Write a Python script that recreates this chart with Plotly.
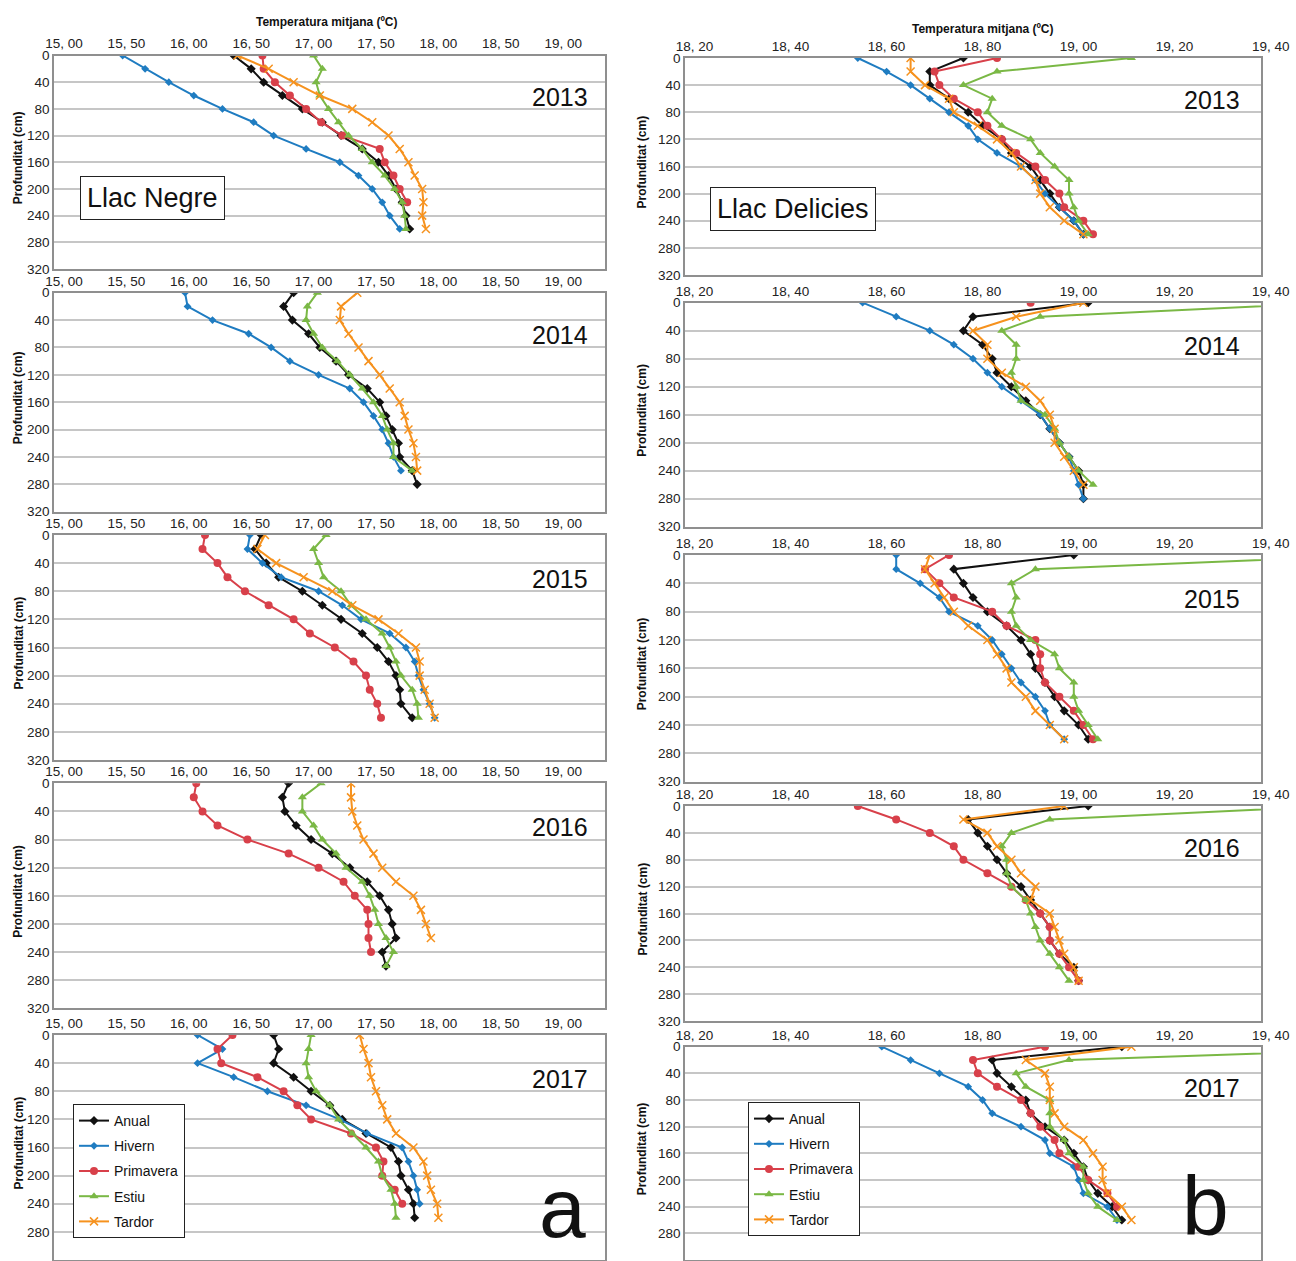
import plotly.graph_objects as go

W, H = 1296, 1261
DEPTH = [0, 20, 40, 60, 80, 100, 120, 140, 160, 180, 200, 220, 240, 260, 280]
YEARS = ["2013", "2014", "2015", "2016", "2017"]
SEASONS = ["Anual", "Hivern", "Primavera", "Estiu", "Tardor"]

# ---------------- Llac Negre (a) ----------------
negre_2013_anual = [16.36, 16.50, 16.60, 16.75, 16.91, 17.07, 17.22, 17.39, 17.52, 17.60, 17.66, 17.71, 17.74, 17.77]
negre_2013_hivern = [15.47, 15.65, 15.84, 16.04, 16.27, 16.52, 16.68, 16.94, 17.21, 17.36, 17.47, 17.55, 17.61, 17.69]
negre_2013_primavera = [16.59, 16.60, 16.69, 16.81, 16.94, 17.06, 17.23, 17.53, 17.57, 17.64, 17.69, 17.75]
negre_2013_estiu = [17.00, 17.07, 17.02, 17.05, 17.12, 17.20, 17.28, 17.39, 17.47, 17.57, 17.65, 17.71, 17.73, 17.74]
negre_2013_tardor = [16.39, 16.64, 16.84, 17.05, 17.31, 17.47, 17.60, 17.69, 17.76, 17.81, 17.87, 17.88, 17.87, 17.90]

negre_2014_anual = [16.84, 16.76, 16.83, 16.96, 17.05, 17.18, 17.28, 17.43, 17.53, 17.58, 17.63, 17.68, 17.69, 17.79, 17.83]
negre_2014_hivern = [15.97, 15.99, 16.19, 16.48, 16.66, 16.81, 17.04, 17.29, 17.40, 17.48, 17.55, 17.60, 17.64, 17.70]
negre_2014_primavera = []
negre_2014_estiu = [17.03, 16.95, 16.94, 17.00, 17.07, 17.19, 17.29, 17.39, 17.48, 17.55, 17.59, 17.64, 17.64, 17.79]
negre_2014_tardor = [17.35, 17.22, 17.21, 17.28, 17.36, 17.44, 17.53, 17.61, 17.69, 17.73, 17.76, 17.80, 17.82, 17.83]

negre_2015_anual = [16.58, 16.53, 16.62, 16.72, 16.91, 17.07, 17.22, 17.39, 17.51, 17.60, 17.66, 17.69, 17.70, 17.79]
negre_2015_hivern = [16.49, 16.47, 16.59, 16.74, 17.04, 17.23, 17.38, 17.61, 17.74, 17.81, 17.84, 17.88, 17.93, 17.97]
negre_2015_primavera = [16.13, 16.11, 16.23, 16.31, 16.45, 16.64, 16.84, 16.97, 17.17, 17.32, 17.42, 17.45, 17.51, 17.54]
negre_2015_estiu = [17.10, 17.00, 17.04, 17.08, 17.22, 17.30, 17.42, 17.55, 17.61, 17.66, 17.70, 17.79, 17.83, 17.84]
negre_2015_tardor = [16.61, 16.55, 16.70, 16.92, 17.15, 17.31, 17.52, 17.68, 17.82, 17.85, 17.85, 17.89, 17.93, 17.97]

negre_2016_anual = [16.80, 16.75, 16.77, 16.86, 16.98, 17.15, 17.29, 17.43, 17.53, 17.60, 17.63, 17.66, 17.55, 17.58]
negre_2016_hivern = []
negre_2016_primavera = [16.06, 16.04, 16.11, 16.23, 16.47, 16.80, 17.04, 17.24, 17.33, 17.43, 17.44, 17.44, 17.46]
negre_2016_estiu = [17.06, 16.91, 16.91, 17.00, 17.07, 17.18, 17.26, 17.39, 17.45, 17.49, 17.52, 17.58, 17.64, 17.58]
negre_2016_tardor = [17.30, 17.30, 17.31, 17.35, 17.40, 17.48, 17.55, 17.66, 17.80, 17.86, 17.90, 17.94]

negre_2017_anual = [16.68, 16.72, 16.68, 16.84, 16.98, 17.13, 17.23, 17.42, 17.62, 17.68, 17.70, 17.76, 17.80, 17.81]
negre_2017_hivern = [16.07, 16.27, 16.07, 16.36, 16.63, 16.94, 17.21, 17.43, 17.71, 17.76, 17.80, 17.83, 17.85]
negre_2017_primavera = [16.35, 16.23, 16.26, 16.55, 16.76, 16.87, 16.98, 17.30, 17.50, 17.56, 17.55, 17.65, 17.71]
negre_2017_estiu = [16.98, 16.96, 16.94, 16.96, 17.02, 17.13, 17.20, 17.31, 17.42, 17.52, 17.55, 17.62, 17.65, 17.66]
negre_2017_tardor = [17.37, 17.40, 17.44, 17.46, 17.50, 17.55, 17.59, 17.66, 17.80, 17.88, 17.91, 17.94, 17.99, 18.00]

# ---------------- Llac Delicies (b) ----------------
delicies_2013_anual = [18.76, 18.69, 18.69, 18.73, 18.77, 18.80, 18.84, 18.86, 18.90, 18.92, 18.94, 18.96, 18.99, 19.01]
delicies_2013_hivern = [18.54, 18.60, 18.65, 18.69, 18.73, 18.77, 18.79, 18.83, 18.88, 18.91, 18.93, 18.96, 18.99, 19.01]
delicies_2013_primavera = [18.83, 18.70, 18.71, 18.74, 18.79, 18.81, 18.84, 18.87, 18.91, 18.93, 18.96, 18.97, 19.01, 19.03]
delicies_2013_estiu = [19.11, 18.83, 18.76, 18.82, 18.81, 18.84, 18.90, 18.92, 18.95, 18.98, 18.98, 18.99, 19.00, 19.02]
delicies_2013_tardor = [18.65, 18.65, 18.68, 18.73, 18.74, 18.79, 18.83, 18.86, 18.88, 18.91, 18.92, 18.94, 18.97, 19.01]

delicies_2014_anual = [19.02, 18.78, 18.76, 18.80, 18.82, 18.83, 18.86, 18.89, 18.92, 18.94, 18.96, 18.98, 19.00, 19.01, 19.01]
delicies_2014_hivern = [18.55, 18.62, 18.69, 18.74, 18.78, 18.81, 18.84, 18.88, 18.92, 18.94, 18.96, 18.98, 18.99, 19.00, 19.01]
delicies_2014_primavera = [18.90]
delicies_2014_estiu = [19.54, 18.92, 18.84, 18.87, 18.87, 18.86, 18.87, 18.88, 18.93, 18.95, 18.96, 18.98, 19.00, 19.03]
delicies_2014_tardor = [19.01, 18.87, 18.78, 18.81, 18.81, 18.84, 18.89, 18.92, 18.94, 18.95, 18.95, 18.97, 18.99, 19.01]

delicies_2015_anual = [18.99, 18.74, 18.76, 18.78, 18.81, 18.85, 18.88, 18.90, 18.91, 18.93, 18.95, 18.97, 19.00, 19.02]
delicies_2015_hivern = [18.62, 18.62, 18.67, 18.71, 18.73, 18.79, 18.82, 18.84, 18.86, 18.88, 18.91, 18.93, 18.94, 18.97]
delicies_2015_primavera = [18.73, 18.68, 18.71, 18.74, 18.82, 18.85, 18.91, 18.92, 18.92, 18.93, 18.96, 18.99, 19.01, 19.03]
delicies_2015_estiu = [19.64, 18.91, 18.86, 18.87, 18.86, 18.87, 18.90, 18.95, 18.96, 18.99, 18.99, 19.00, 19.02, 19.04]
delicies_2015_tardor = [18.69, 18.68, 18.70, 18.72, 18.74, 18.77, 18.81, 18.83, 18.85, 18.86, 18.89, 18.91, 18.94, 18.97]

delicies_2016_anual = [19.02, 18.77, 18.79, 18.81, 18.83, 18.85, 18.88, 18.90, 18.92, 18.94, 18.94, 18.96, 18.99, 19.00]
delicies_2016_hivern = []
delicies_2016_primavera = [18.54, 18.62, 18.69, 18.74, 18.76, 18.81, 18.86, 18.89, 18.92, 18.94, 18.94, 18.96, 18.98, 19.00]
delicies_2016_estiu = [19.53, 18.94, 18.86, 18.84, 18.85, 18.85, 18.86, 18.89, 18.90, 18.91, 18.92, 18.94, 18.96, 18.98]
delicies_2016_tardor = [18.97, 18.76, 18.81, 18.83, 18.86, 18.88, 18.91, 18.90, 18.94, 18.95, 18.96, 18.97, 18.99, 19.00]

delicies_2017_anual = [19.09, 18.82, 18.83, 18.86, 18.89, 18.90, 18.93, 18.97, 18.99, 19.01, 19.02, 19.04, 19.07, 19.09]
delicies_2017_hivern = [18.59, 18.65, 18.71, 18.77, 18.80, 18.82, 18.88, 18.93, 18.94, 18.99, 19.00, 19.01, 19.06, 19.08]
delicies_2017_primavera = [18.93, 18.78, 18.79, 18.83, 18.88, 18.90, 18.92, 18.95, 18.96, 19.00, 19.02, 19.06, 19.08]
delicies_2017_estiu = [19.80, 18.98, 18.87, 18.89, 18.94, 18.94, 18.94, 18.97, 18.98, 19.01, 19.01, 19.02, 19.04, 19.08]
delicies_2017_tardor = [19.11, 18.89, 18.93, 18.94, 18.94, 18.95, 18.97, 19.01, 19.03, 19.05, 19.05, 19.06, 19.09, 19.11]

# Tick labels
negre_tickvals = [15.0, 15.5, 16.0, 16.5, 17.0, 17.5, 18.0, 18.5, 19.0]
negre_ticktext = ["15, 00", "15, 50", "16, 00", "16, 50", "17, 00", "17, 50", "18, 00", "18, 50", "19, 00"]
delicies_tickvals = [18.2, 18.4, 18.6, 18.8, 19.0, 19.2]
delicies_ticktext = ["18, 20", "18, 40", "18, 60", "18, 80", "19, 00", "19, 20"]
delicies_last_tick = 19.4
delicies_last_text = "19, 40"
depth_ticks = [0, 40, 80, 120, 160, 200, 240, 280, 320]

g = globals()
NEGRE = {y: [g[f"negre_{y}_{s.lower()}"] for s in SEASONS] for y in YEARS}
DELICIES = {y: [g[f"delicies_{y}_{s.lower()}"] for s in SEASONS] for y in YEARS}

COLORS = {"Anual": "#111111", "Hivern": "#1f7cc1", "Primavera": "#d8404a",
          "Estiu": "#7ab845", "Tardor": "#f6921e"}
SYMBOLS = {"Anual": "diamond", "Hivern": "diamond", "Primavera": "circle",
           "Estiu": "triangle-up", "Tardor": "x-thin"}
SIZES = {"Anual": 7, "Hivern": 6, "Primavera": 8, "Estiu": 8, "Tardor": 8}

FONT = "Liberation Sans, Arial, Helvetica, sans-serif"
TICK_SIZE = 13.5

# panel geometry in pixels
LEFT_X = (54, 605)
RIGHT_X = (685, 1261)
LEFT_Y = [(55.5, 269), (292.7, 511.7), (535, 760), (783.3, 1008.3), (1035, 1260)]
RIGHT_Y = [(58, 275), (302.7, 526.7), (555, 781.7), (806, 1021), (1046.7, 1260)]
NEGRE_RANGE = [14.92, 19.335]
DELICIES_RANGE = [18.18, 19.38]


def xd(px):
    return px / W


def yd(py):
    return 1 - py / H


fig = go.Figure()
layout = {}
annotations = []

cols = [
    (NEGRE, LEFT_X, LEFT_Y, NEGRE_RANGE, negre_tickvals, negre_ticktext, "legend", 0.973),
    (DELICIES, RIGHT_X, RIGHT_Y, DELICIES_RANGE, delicies_tickvals, delicies_ticktext, "legend2", 0.967),
]

for c, (data, xpx, ypx, xr, tv, tt, leg, yr_x) in enumerate(cols):
    for r, year in enumerate(YEARS):
        n = c * 5 + r + 1
        sfx = "" if n == 1 else str(n)
        top, bot = ypx[r]
        layout[f"xaxis{sfx}"] = dict(
            domain=[xd(xpx[0]), xd(xpx[1])], anchor=f"y{sfx}", side="top",
            range=xr, tickvals=tv, ticktext=tt, showgrid=False, zeroline=False,
            showline=True, mirror=True, linecolor="#8f8f8f", linewidth=1.5,
            ticks="", automargin=False,
            tickfont=dict(size=TICK_SIZE, color="#222", family=FONT))
        layout[f"yaxis{sfx}"] = dict(
            domain=[yd(bot), yd(top)], anchor=f"x{sfx}", range=[320, 0],
            tickvals=depth_ticks, showgrid=True, gridcolor="#c6c6c6", gridwidth=2,
            zeroline=False, showline=True, mirror=True, linecolor="#8f8f8f",
            linewidth=1.5, ticks="", automargin=False,
            tickfont=dict(size=TICK_SIZE, color="#222", family=FONT))
        for s, season in enumerate(SEASONS):
            vals = data[year][s]
            if not vals:
                continue
            mk = dict(symbol=SYMBOLS[season], size=SIZES[season], color=COLORS[season])
            if season == "Tardor":
                mk["line"] = dict(color=COLORS[season], width=1.5)
            fig.add_trace(go.Scatter(
                x=vals, y=DEPTH[:len(vals)], mode="lines+markers", name=season,
                xaxis=f"x{sfx}", yaxis=f"y{sfx}",
                line=dict(color=COLORS[season], width=2), marker=mk,
                showlegend=(year == "2017"), legend=leg,
                legendgroup=f"{c}_{season}"))
        annotations.append(dict(
            text=year, xref=f"x{sfx} domain", yref=f"y{sfx}", x=yr_x, y=62,
            xanchor="right", yanchor="middle", showarrow=False,
            font=dict(size=25, color="#111", family=FONT)))
        # the last tick label of the Delicies axis sits just past the frame
        if c == 1:
            frac = (delicies_last_tick - xr[0]) / (xr[1] - xr[0])
            annotations.append(dict(
                text=delicies_last_text, xref=f"x{sfx} domain", yref=f"y{sfx} domain",
                x=frac, y=1, xanchor="center", yanchor="bottom", yshift=3,
                showarrow=False, borderpad=0,
                font=dict(size=TICK_SIZE, color="#222", family=FONT)))
        # y-axis title
        annotations.append(dict(
            text="<b>Profunditat (cm)</b>", xref="paper", yref="paper",
            x=xd(18 if c == 0 else 642), y=yd((top + bot) / 2 - 4),
            textangle=-90, showarrow=False, xanchor="center", yanchor="middle",
            font=dict(size=12, color="#111", family=FONT)))


def paper_text(text, px, py, size, **kw):
    d = dict(text=text, xref="paper", yref="paper", x=xd(px), y=yd(py),
             xanchor="center", yanchor="middle", showarrow=False,
             font=dict(size=size, color="#111", family=FONT))
    d.update(kw)
    return d


annotations.append(paper_text("<b>Temperatura mitjana (ºC)</b>", 327, 22, 12))
annotations.append(paper_text("<b>Temperatura mitjana (ºC)</b>", 983, 29, 12))
annotations.append(paper_text("Llac Negre", 152, 197.5, 27, bordercolor="#222",
                              borderwidth=1, borderpad=6, bgcolor="white"))
annotations.append(paper_text("Llac Delicies", 792.5, 209.5, 27, bordercolor="#222",
                              borderwidth=1, borderpad=6, bgcolor="white"))
annotations.append(paper_text("a", 562, 1208, 84))
annotations.append(paper_text("b", 1205, 1206, 84))

leg_common = dict(xanchor="left", yanchor="top", bordercolor="#222", borderwidth=1,
                  bgcolor="white", font=dict(size=14, color="#111", family=FONT),
                  tracegroupgap=4, itemwidth=30, traceorder="grouped")

fig.update_layout(
    width=W, height=H, margin=dict(l=0, r=0, t=0, b=0, pad=0, autoexpand=False),
    paper_bgcolor="white", plot_bgcolor="white",
    font=dict(family=FONT),
    legend=dict(x=xd(73), y=yd(1104), **leg_common),
    legend2=dict(x=xd(748), y=yd(1102), **leg_common),
    annotations=annotations,
    **layout,
)

fig.write_html("out.html", config={"displayModeBar": False},
               post_script="document.body.style.margin='0px';")
